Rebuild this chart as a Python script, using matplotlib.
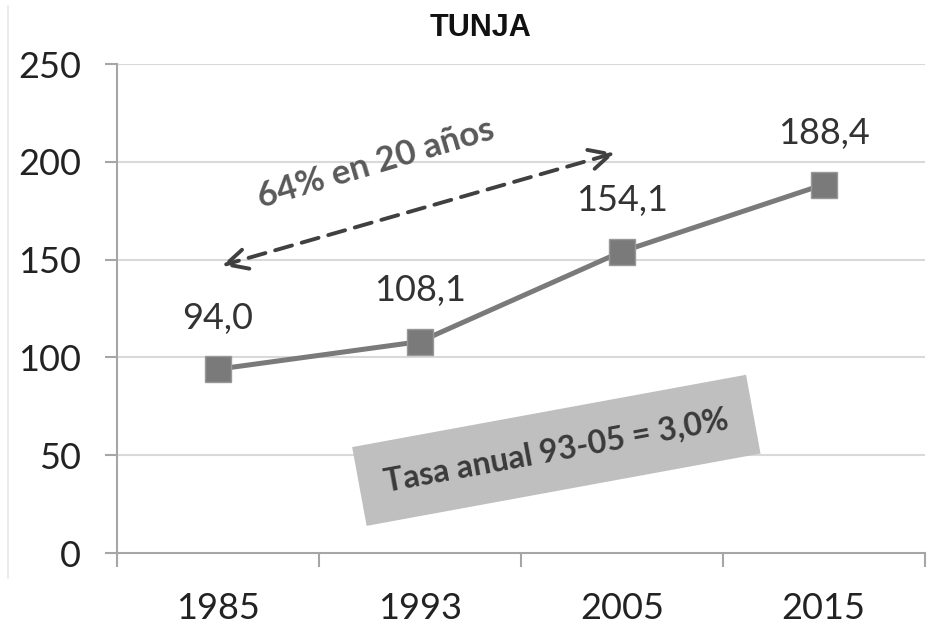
import matplotlib.pyplot as plt
from matplotlib.lines import Line2D

# Data
years = ['1985', '1993', '2005', '2015']
values = [94.0, 108.1, 154.1, 188.4]
value_labels = ['94,0', '108,1', '154,1', '188,4']
y_ticks = [0, 50, 100, 150, 200, 250]

plt.rcParams['font.family'] = ['Lato', 'DejaVu Sans']

fig = plt.figure(figsize=(9.33, 6.28), dpi=100)
ax = fig.add_axes([0.1254, 0.1194, 0.8656, 0.7786])

x = list(range(len(years)))

# grid
for yv in y_ticks[1:]:
    ax.axhline(yv, color='#d9d9d9', linewidth=1.5, zorder=0)

ax.plot(x, values, color='#7a7a7a', linewidth=3.6, marker='s', markersize=19,
        markerfacecolor='#7a7a7a', markeredgecolor='#999999', markeredgewidth=1, zorder=3)

for xi, v, lab in zip(x, values, value_labels):
    ax.annotate(lab, (xi, v), xytext=(0, 51), textcoords='offset pixels',
                ha='center', va='center', fontsize=26, color='#333333')

# dashed double-headed arrow
ax.annotate('', xy=(0.02, 147), xytext=(1.965, 204.5),
            arrowprops=dict(arrowstyle='<->', linestyle=(0, (4.5, 2.6)), color='#404040',
                            linewidth=2.8, mutation_scale=38, shrinkA=0, shrinkB=0))
ax.text(0.78, 199, '64% en 20 años', rotation=16.5, rotation_mode='anchor',
        ha='center', va='center', fontsize=25, fontweight='bold', color='#595959')

# rotated grey box
ax.text(1.676, 52.5, 'Tasa anual 93-05 = 3,0%', rotation=10.4, rotation_mode='anchor',
        ha='center', va='center', fontsize=23, fontweight='bold', color='#3a3a3a',
        bbox=dict(boxstyle='square,pad=0.8', facecolor='#bfbfbf', edgecolor='none'))

ax.set_xlim(-0.5, 3.5)
ax.set_ylim(0, 250)
ax.set_yticks(y_ticks)
ax.set_yticklabels([str(t) for t in y_ticks])
ax.set_xticks([-0.5, 0.5, 1.5, 2.5, 3.5])
ax.set_xticklabels([])
ax.set_xticks(x, minor=True)
ax.set_xticklabels(years, minor=True)

for side in ['top', 'right']:
    ax.spines[side].set_visible(False)
for side in ['left', 'bottom']:
    ax.spines[side].set_color('#a6a6a6')
    ax.spines[side].set_linewidth(1.5)

ax.tick_params(axis='y', length=9, width=1.5, color='#a6a6a6', pad=17,
               labelsize=26, labelcolor='#222222')
ax.tick_params(axis='x', which='major', length=10, width=1.5, color='#a6a6a6')
ax.tick_params(axis='x', which='minor', length=0, pad=28, labelsize=26, labelcolor='#222222')

fig.text(0.515, 0.955, 'TUNJA', ha='center', va='center', fontsize=22,
         fontweight='bold', family=['Liberation Sans', 'DejaVu Sans'], color='#111111')

# faint frame line at the left edge
fig.add_artist(Line2D([0.009, 0.009], [0.08, 0.99], color='#e6e6e6', linewidth=1.2))

fig.savefig('out.png', dpi=100)
